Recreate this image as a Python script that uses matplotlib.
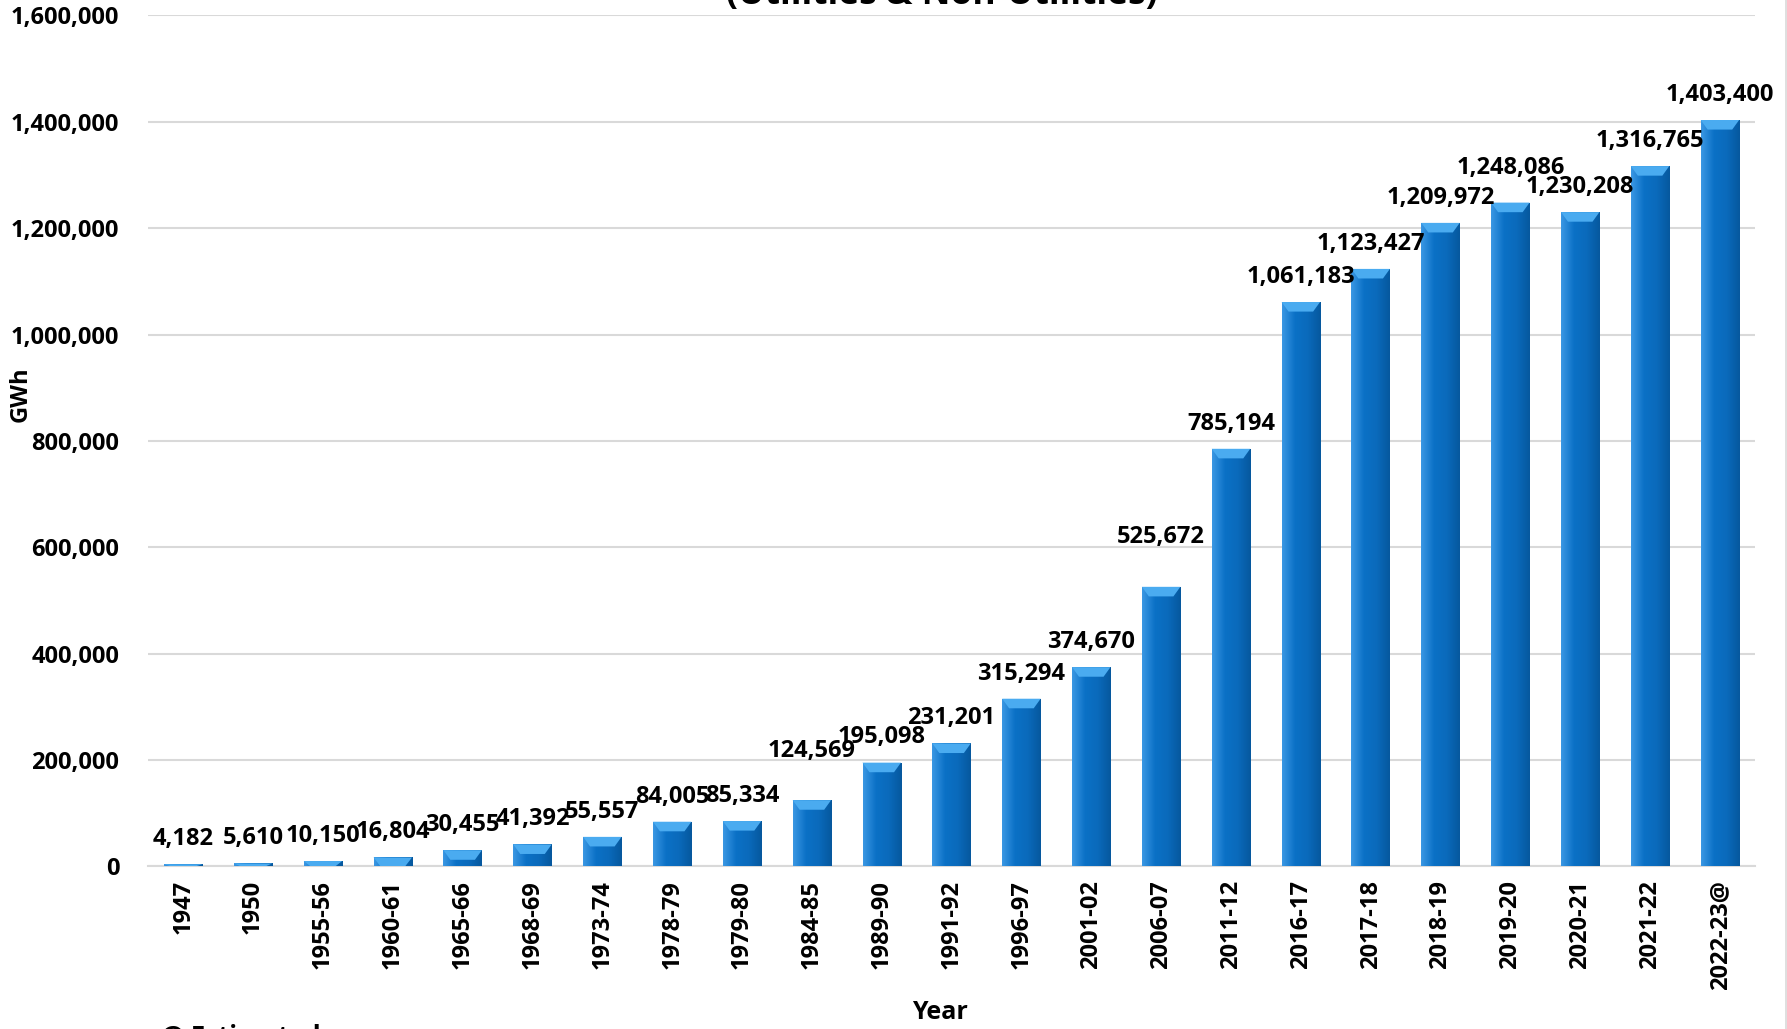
import matplotlib.pyplot as plt
import numpy as np
from matplotlib.ticker import FuncFormatter, MultipleLocator
from matplotlib.colors import LinearSegmentedColormap
from matplotlib.lines import Line2D

plt.rcParams['font.family'] = ['Open Sans', 'DejaVu Sans']
plt.rcParams['font.weight'] = 'bold'

years = ['1947', '1950', '1955-56', '1960-61', '1965-66', '1968-69', '1973-74',
         '1978-79', '1979-80', '1984-85', '1989-90', '1991-92', '1996-97',
         '2001-02', '2006-07', '2011-12', '2016-17', '2017-18', '2018-19',
         '2019-20', '2020-21', '2021-22', '2022-23@']
gwh = [4182, 5610, 10150, 16804, 30455, 41392, 55557, 84005, 85334, 124569,
       195098, 231201, 315294, 374670, 525672, 785194, 1061183, 1123427,
       1209972, 1248086, 1230208, 1316765, 1403400]

# a few labels were nudged up by hand in the original (points)
label_lift = {'1984-85': 17, '2006-07': 18, '2019-20': 7}

fig = plt.figure(figsize=(17.87, 10.29), dpi=100)
ax = fig.add_axes([0.083, 0.158, 0.899, 0.827])

x = np.arange(len(years))
bars = ax.bar(x, gwh, width=0.55, color='#0A6FC2', zorder=3)

# side shading to mimic the bevelled Excel bars
shade = LinearSegmentedColormap.from_list('shade', ['#3A97E3', '#0B71C6', '#0A6ABB', '#06589E'])
grad = np.linspace(0, 1, 64).reshape(1, -1)
for b in bars:
    bx, by = b.get_x(), b.get_y()
    w, h = b.get_width(), b.get_height()
    im = ax.imshow(grad, cmap=shade, aspect='auto', zorder=3,
                   extent=[bx, bx + w, by, by + h], origin='lower')
    im.set_clip_path(b)
    cap = min(h, 18000)
    ax.add_patch(plt.Polygon([[bx, by + h], [bx + w, by + h],
                              [bx + w * 0.82, by + h - cap], [bx + w * 0.18, by + h - cap]],
                             closed=True, facecolor='#4AABF0', edgecolor='none', zorder=4))

for xi, yr, v in zip(x, years, gwh):
    ax.annotate(f'{v:,}', (xi, v), xytext=(0, 9.5 + label_lift.get(yr, 0)),
                textcoords='offset points', ha='center', va='bottom',
                fontsize=17, fontweight='bold', zorder=5)

ax.set_xlim(-0.5, len(years) - 0.5)
ax.set_ylim(0, 1600000)
ax.yaxis.set_major_locator(MultipleLocator(200000))
ax.yaxis.set_major_formatter(FuncFormatter(lambda v, p: f'{int(v):,}'))
ax.set_xticks(x)
ax.set_xticklabels(years, rotation=90, fontsize=17, fontweight='bold')
ax.tick_params(axis='y', labelsize=17, length=0, pad=21)
ax.tick_params(axis='x', length=0, pad=10)
for lab in ax.get_yticklabels():
    lab.set_fontweight('bold')

ax.grid(axis='y', color='#D9D9D9', linewidth=1.5, zorder=0)
for s in ['top', 'right', 'left']:
    ax.spines[s].set_visible(False)
ax.spines['bottom'].set_color('#D9D9D9')
ax.spines['bottom'].set_linewidth(1.5)

ax.set_ylabel('GWh', fontsize=17, fontweight='bold')
ax.yaxis.set_label_coords(-0.072, 0.555)
ax.set_xlabel('Year', fontsize=18, fontweight='bold', va='center')
ax.xaxis.set_label_coords(0.493, -0.172)

fig.text(0.527, 1 - 13 / 1029, 'Gross Electricity Generation\n(Utilities & Non-Utilities)',
         ha='center', va='bottom', fontsize=25.5, fontweight='bold', linespacing=1.2)
fig.text(0.09, 1 - 1023 / 1029, '@ Estimated', ha='left', va='top',
         fontsize=18.5, fontweight='bold')

# chart-area border on the right edge
fig.add_artist(Line2D([0.9992, 0.9992], [0, 1], transform=fig.transFigure,
                      color='#D9D9D9', linewidth=1.2))

fig.savefig('out.png', dpi=100)
